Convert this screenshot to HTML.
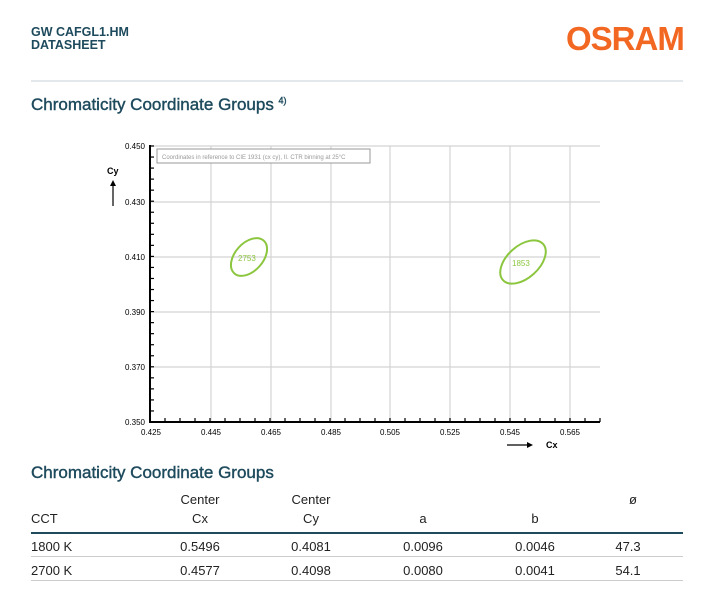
<!DOCTYPE html>
<html><head><meta charset="utf-8"><style>
body{margin:0;width:703px;height:604px;background:#fff;font-family:"Liberation Sans",Arial,sans-serif;position:relative;overflow:hidden}
.a{position:absolute;white-space:nowrap}
.t{color:#1d4a5c;font-weight:bold}
.c{font-size:13px;color:#222;transform:translateX(-50%)}
</style></head><body>
<div class="a t" style="left:31px;top:26px;font-size:12.5px;line-height:13px">GW CAFGL1.HM<br>DATASHEET</div>
<div class="a" style="left:566px;top:20px;font-size:33px;font-weight:bold;color:#f26722;letter-spacing:-1px">OSRAM</div>
<div class="a" style="left:31px;top:80px;width:652px;height:2px;background:#e3e8ec"></div>
<div class="a t" style="left:31px;top:95px;font-size:17px;font-weight:normal;-webkit-text-stroke:0.4px #1d4a5c">Chromaticity Coordinate Groups <sup style="font-size:9px">4)</sup></div>
<svg class="a" style="left:0;top:0" width="703" height="460">
<g stroke="#d4d4d4" stroke-width="1.2">
<line x1="150" y1="146" x2="600" y2="146"/><line x1="150" y1="202" x2="600" y2="202"/><line x1="150" y1="257" x2="600" y2="257"/><line x1="150" y1="312" x2="600" y2="312"/><line x1="150" y1="367" x2="600" y2="367"/>
<line x1="211" y1="146" x2="211" y2="422"/><line x1="271" y1="146" x2="271" y2="422"/><line x1="331" y1="146" x2="331" y2="422"/><line x1="390" y1="146" x2="390" y2="422"/><line x1="450" y1="146" x2="450" y2="422"/><line x1="510" y1="146" x2="510" y2="422"/><line x1="570" y1="146" x2="570" y2="422"/>
</g>
<g stroke="#000" stroke-width="1.2" id="tk"></g>
<line x1="150" y1="145" x2="150" y2="423" stroke="#000" stroke-width="2"/>
<line x1="149" y1="422" x2="600" y2="422" stroke="#000" stroke-width="2"/>
<rect x="157" y="149" width="213" height="14" fill="#fff" stroke="#999"/>
<text x="162" y="159" font-size="6" fill="#999">Coordinates in reference to CIE 1931 (cx cy), II. CTR binning at 25°C</text>
<ellipse cx="249" cy="257" rx="22" ry="14" transform="rotate(-48 249 257)" fill="none" stroke="#8cc63f" stroke-width="2"/>
<text x="238" y="261" font-size="8" fill="#8cc63f">2753</text>
<ellipse cx="523" cy="262" rx="27" ry="16" transform="rotate(-42 523 262)" fill="none" stroke="#8cc63f" stroke-width="2"/>
<text x="512" y="266" font-size="8" fill="#8cc63f">1853</text>
<g font-size="8" fill="#000" text-anchor="end">
<text x="145" y="149">0.450</text><text x="145" y="205">0.430</text><text x="145" y="260">0.410</text><text x="145" y="315">0.390</text><text x="145" y="370">0.370</text><text x="145" y="425">0.350</text></g>
<g font-size="8" fill="#000" text-anchor="middle">
<text x="151" y="435">0.425</text><text x="211" y="435">0.445</text><text x="271" y="435">0.465</text><text x="331" y="435">0.485</text><text x="390" y="435">0.505</text><text x="450" y="435">0.525</text><text x="510" y="435">0.545</text><text x="570" y="435">0.565</text></g>
<text x="107" y="174" font-size="9" font-weight="bold">Cy</text>
<line x1="113" y1="206" x2="113" y2="184" stroke="#000" stroke-width="1.2"/><path d="M110,186 L113,180 L116,186Z"/>
<text x="546" y="448" font-size="9" font-weight="bold">Cx</text>
<line x1="507" y1="445" x2="529" y2="445" stroke="#000" stroke-width="1.2"/><path d="M527,442 L533,445 L527,448Z"/>
</svg>
<script>
var g=document.getElementById('tk'),s='';
for(var y=146;y<=422;y+=11.04)s+='<line x1="150" y1="'+y+'" x2="154" y2="'+y+'"/>';
for(var x=150;x<=600;x+=15)s+='<line x1="'+x+'" y1="422" x2="'+x+'" y2="418"/>';
g.innerHTML=s;
</script>
<div class="a t" style="left:31px;top:463px;font-size:17px;font-weight:normal;-webkit-text-stroke:0.4px #1d4a5c">Chromaticity Coordinate Groups</div>
<div class="a c" style="left:200px;top:492px">Center</div><div class="a c" style="left:311px;top:492px">Center</div><div class="a c" style="left:633px;top:492px">ø</div>
<div class="a" style="left:31px;top:511px;font-size:13px;color:#222">CCT</div>
<div class="a c" style="left:200px;top:511px">Cx</div><div class="a c" style="left:311px;top:511px">Cy</div><div class="a c" style="left:423px;top:511px">a</div><div class="a c" style="left:535px;top:511px">b</div>
<div class="a" style="left:31px;top:532px;width:652px;height:2px;background:#1d4a5c"></div>
<div class="a" style="left:31px;top:539px;font-size:13px;color:#222">1800 K</div>
<div class="a c" style="left:200px;top:539px">0.5496</div><div class="a c" style="left:311px;top:539px">0.4081</div><div class="a c" style="left:423px;top:539px">0.0096</div><div class="a c" style="left:535px;top:539px">0.0046</div><div class="a c" style="left:628px;top:539px">47.3</div>
<div class="a" style="left:31px;top:556px;width:652px;height:1px;background:#ccc"></div>
<div class="a" style="left:31px;top:563px;font-size:13px;color:#222">2700 K</div>
<div class="a c" style="left:200px;top:563px">0.4577</div><div class="a c" style="left:311px;top:563px">0.4098</div><div class="a c" style="left:423px;top:563px">0.0080</div><div class="a c" style="left:535px;top:563px">0.0041</div><div class="a c" style="left:628px;top:563px">54.1</div>
<div class="a" style="left:31px;top:580px;width:652px;height:1px;background:#ccc"></div>
</body></html>
